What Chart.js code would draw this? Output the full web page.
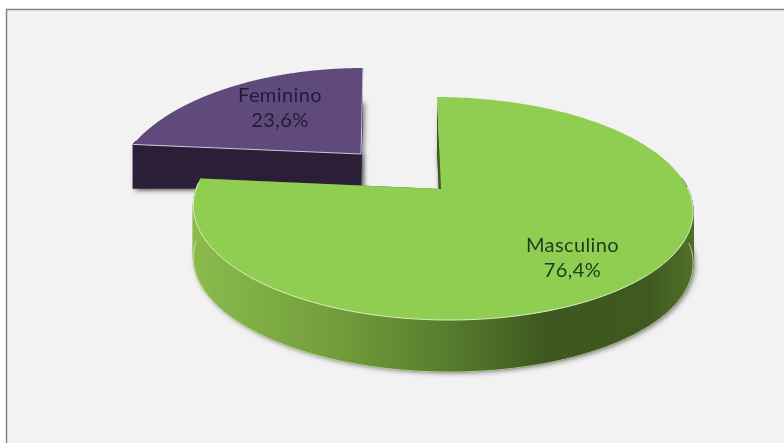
<!DOCTYPE html>
<html><head><meta charset="utf-8">
<style>html,body{margin:0;padding:0;background:#f2f2f2;overflow:hidden}
#wrap{position:absolute;left:0;top:0;width:784px;height:443px}</style>
<script src="https://cdn.jsdelivr.net/npm/chart.js@4"></script>
</head><body><div id="wrap"><canvas id="c" width="784" height="443"></canvas></div>
<script>
const categories = ['Masculino', 'Feminino'];
const shares = [76.4, 23.6];
const shareLabels = ['76,4%', '23,6%'];
const topColors = ['#8fce50', '#604a7b'];
const edgeColors = ['#dcefc4', '#cfc6dc'];
const wallColors = ['#3f5a1f', '#2b1f38'];
const rimStops = [
  [[0,'#8abb4c'],[0.31,'#6f9a3a'],[0.575,'#4f7229'],[0.71,'#3d5720'],[0.92,'#3f5a20'],[1,'#4e6e27']],
  [[0,'#2b1f38'],[1,'#2b1f38']]
];
// Where each exploded slice sits on the page: ground plane to screen homography
const placement = [
  {x0:441, y0:189, rx:246, ry:-75,   c:0.175, d:-0.006, xv:-4, yu:0, depth:52, du:0},
  {x0:361, y0:154, rx:235, ry:-65.6, c:0.3,   d:0,      xv:2,  yu:0, depth:34, du:-10}
];
const labelAnchors = [[572.5,258],[280,108.5]];

class Arc3D extends Chart.ArcElement {
  draw(ctx) {
    const o = this.options;
    const idx = this.$context.dataIndex;
    const H = placement[idx];
    const p = this.getProps(['startAngle','endAngle']);
    const start = p.startAngle, end = p.endAngle;
    const at = (a,r,h) => {
      const u = Math.cos(a)*r, v = -Math.sin(a)*r;
      const w = 1 + H.c*v + H.d*u;
      return [H.x0 + H.rx*u/w + H.xv*v, (H.y0 + H.ry*v)/w + H.yu*u + h*(H.depth + H.du*u)];
    };
    const N = 240;
    const rim = [];
    for (let i=0;i<=N;i++) rim.push(start + (end-start)*i/N);
    const face = h => {
      ctx.beginPath();
      const c0 = at(0,0,h); ctx.moveTo(c0[0],c0[1]);
      rim.forEach(a => { const t = at(a,1,h); ctx.lineTo(t[0],t[1]); });
      ctx.closePath();
    };
    const wallQuad = (a, fill) => {
      ctx.beginPath();
      let q;
      q = at(a,0,0); ctx.moveTo(q[0],q[1]);
      q = at(a,1,0); ctx.lineTo(q[0],q[1]);
      q = at(a,1,1); ctx.lineTo(q[0],q[1]);
      q = at(a,0,1); ctx.lineTo(q[0],q[1]);
      ctx.closePath(); ctx.fillStyle = fill; ctx.fill();
    };
    ctx.save();
    // soft shadow hugging the lower silhouette
    ctx.save();
    ctx.shadowColor='rgba(60,60,60,0.65)'; ctx.shadowBlur=5; ctx.shadowOffsetX=2; ctx.shadowOffsetY=1;
    face(1); ctx.fillStyle = wallColors[idx]; ctx.fill();
    wallQuad(start, wallColors[idx]);
    ctx.restore();
    wallQuad(end, wallColors[idx]);
    // outer rim wall, only the part facing the viewer
    const left = at(Math.PI,1,0)[0], right = at(0,1,0)[0];
    const g = ctx.createLinearGradient(left,0,right,0);
    rimStops[idx].forEach(s => g.addColorStop(s[0], s[1]));
    for (let i=0;i<N;i++) {
      const a = rim[i], b = rim[i+1];
      if (Math.sin((a+b)/2) < -0.12) continue;
      ctx.beginPath();
      let q = at(a,1,0); ctx.moveTo(q[0],q[1]);
      q = at(b,1,0); ctx.lineTo(q[0],q[1]);
      q = at(b,1,1); ctx.lineTo(q[0],q[1]);
      q = at(a,1,1); ctx.lineTo(q[0],q[1]);
      ctx.closePath();
      ctx.fillStyle = g; ctx.strokeStyle = g; ctx.lineWidth = 1;
      ctx.fill(); ctx.stroke();
    }
    // pale highlight along the bottom edge of the rim
    if (idx === 0) {
      ctx.beginPath();
      let started = false;
      rim.forEach(a => {
        if (Math.sin(a) < 0) { started = false; return; }
        const t = at(a,1,1);
        if (started) ctx.lineTo(t[0],t[1]); else { ctx.moveTo(t[0],t[1]); started = true; }
      });
      ctx.strokeStyle='rgba(225,235,205,0.7)'; ctx.lineWidth=1; ctx.stroke();
    }
    // top face
    face(0);
    ctx.fillStyle = o.backgroundColor;
    ctx.fill();
    // pale line along the slice edges
    ctx.strokeStyle = edgeColors[idx]; ctx.lineWidth = 1;
    if (idx === 0) {
      ctx.beginPath();
      let started = false;
      rim.forEach(a => {
        if (Math.sin(a) < -0.05) { started = false; return; }
        const t = at(a,1,0);
        if (started) ctx.lineTo(t[0],t[1]); else { ctx.moveTo(t[0],t[1]); started = true; }
      });
      ctx.stroke();
    } else {
      ctx.beginPath();
      let q = at(start,1,0); ctx.moveTo(q[0],q[1]);
      q = at(0,0,0); ctx.lineTo(q[0],q[1]);
      q = at(end,1,0); ctx.lineTo(q[0],q[1]);
      ctx.stroke();
    }
    ctx.restore();
  }
}
Arc3D.id = 'arc3d';
Arc3D.defaults = Object.assign({}, Chart.ArcElement.defaults);
Chart.register(Arc3D);

class Pie3D extends Chart.PieController {
  draw() {
    const c = this.chart.ctx, els = this.getMeta().data;
    for (let i = els.length - 1; i >= 0; i--) els[i].draw(c);
  }
}
Pie3D.id = 'pie3d';
Pie3D.defaults = Object.assign({}, Chart.PieController.defaults, {dataElementType:'arc3d'});
Pie3D.overrides = Chart.PieController.overrides;
Chart.register(Pie3D);

const frame = {
  id:'frame',
  beforeDraw(chart){
    const c = chart.ctx;
    c.save();
    c.fillStyle='#ffffff'; c.fillRect(0,0,784,443);
    c.fillStyle='#f2f2f2'; c.fillRect(6,9,778,434);
    c.strokeStyle='#858585'; c.lineWidth=1.5;
    c.beginPath(); c.moveTo(6.5,443); c.lineTo(6.5,9.5); c.lineTo(784,9.5); c.stroke();
    c.restore();
  }
};
const labels = {
  id:'sliceLabels',
  afterDatasetsDraw(chart){
    const c = chart.ctx;
    c.save();
    c.font='20px Lato, "Open Sans", sans-serif';
    if ('letterSpacing' in c) c.letterSpacing='0.4px';
    c.textAlign='center'; c.textBaseline='middle';
    categories.forEach((name,i)=>{
      const a = labelAnchors[i];
      c.fillStyle = i===0 ? '#1d3a22' : '#231a33';
      c.fillText(name,a[0],a[1]-12.5);
      c.fillText(shareLabels[i],a[0],a[1]+12.5);
    });
    c.restore();
  }
};
new Chart(document.getElementById('c'),{
  type:'pie3d',
  data:{labels:categories,datasets:[{
    data:shares,
    backgroundColor:topColors
  }]},
  options:{
    responsive:false,animation:false,
    layout:{padding:0},
    plugins:{legend:{display:false},tooltip:{enabled:false}}
  },
  plugins:[frame,labels]
});
</script></body></html>
